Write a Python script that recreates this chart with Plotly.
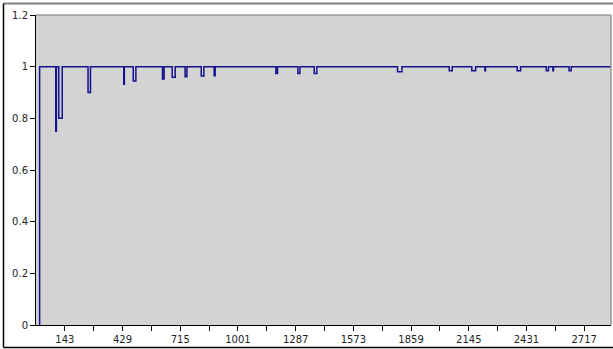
import plotly.graph_objects as go

# Step series: starts at 0, rises to 1, with short dips
start_x = 17
rise_x = 18
end_x = 2850
dip_start = [98, 113, 258, 435, 482, 627, 675, 739, 819, 883, 1189, 1298, 1379, 1792, 2048, 2160, 2225, 2385, 2529, 2562, 2642]
dip_end   = [101, 130, 270, 438, 495, 635, 690, 748, 832, 888, 1197, 1308, 1392, 1814, 2063, 2179, 2228, 2402, 2540, 2565, 2653]
dip_value = [0.75, 0.8, 0.9, 0.932, 0.945, 0.952, 0.959, 0.961, 0.964, 0.965, 0.974, 0.974, 0.974, 0.98, 0.984, 0.984, 0.984, 0.984, 0.984, 0.984, 0.984]

x_tick_vals = [143, 286, 429, 572, 715, 858, 1001, 1144, 1287, 1430, 1573, 1716, 1859, 2002, 2145, 2288, 2431, 2574, 2717]
x_tick_text = ["143", "", "429", "", "715", "", "1001", "", "1287", "", "1573", "", "1859", "", "2145", "", "2431", "", "2717"]

xs = [start_x, rise_x]
ys = [0, 1]
for s, e, v in zip(dip_start, dip_end, dip_value):
    xs += [s, e]
    ys += [v, 1]
xs.append(end_x)
ys.append(1)

W, H = 613, 349
PL, PR, PT, PB = 36, 611, 15, 325  # plot area edges in pixels

fig = go.Figure()
fig.add_trace(go.Scatter(x=xs, y=ys, mode="lines", line=dict(color="#12128c", width=1.5, shape="hv"),
                         hoverinfo="skip", showlegend=False))

font = dict(family="DejaVu Sans", size=10, color="#222222")
fig.update_layout(
    width=W, height=H,
    margin=dict(l=0, r=0, t=0, b=0),
    paper_bgcolor="white", plot_bgcolor="white",
    font=font,
    xaxis=dict(domain=[PL / W, PR / W], range=[0, 2850], tickmode="array", tickvals=x_tick_vals,
               ticktext=x_tick_text, showgrid=False, zeroline=False, showline=True, linecolor="black",
               linewidth=1, ticks="outside", ticklen=5, tickcolor="black", tickfont=font, automargin=False),
    yaxis=dict(domain=[1 - PB / H, 1 - PT / H], range=[0, 1.2], tickmode="array",
               tickvals=[0, 0.2, 0.4, 0.6, 0.8, 1, 1.2],
               ticktext=["0", "0.2", "0.4", "0.6", "0.8", "1", "1.2"],
               showgrid=False, zeroline=False, showline=True, linecolor="black", linewidth=1,
               ticks="outside", ticklen=5, tickcolor="black", tickfont=font, automargin=False),
)

# plot area background and gray top/right border
fig.add_shape(type="rect", xref="paper", yref="paper", x0=PL / W, x1=PR / W, y0=1 - PB / H, y1=1 - PT / H,
              fillcolor="#d3d3d3", line=dict(width=0), layer="below")
fig.add_shape(type="line", xref="paper", yref="paper", x0=PL / W, x1=PR / W, y0=1 - PT / H, y1=1 - PT / H,
              line=dict(color="#999999", width=1.5), layer="above")
fig.add_shape(type="line", xref="paper", yref="paper", x0=PR / W, x1=PR / W, y0=1 - PB / H, y1=1 - PT / H,
              line=dict(color="#999999", width=1.5), layer="above")
# outer frame: top gray, left and bottom black
fig.add_shape(type="line", xref="paper", yref="paper", x0=3.5 / W, x1=1, y0=1 - 3.5 / H, y1=1 - 3.5 / H,
              line=dict(color="#808080", width=2), layer="above")
fig.add_shape(type="line", xref="paper", yref="paper", x0=3.5 / W, x1=3.5 / W, y0=1 - 347.5 / H, y1=1 - 3.5 / H,
              line=dict(color="#000000", width=1.5), layer="above")
fig.add_shape(type="line", xref="paper", yref="paper", x0=3.5 / W, x1=1, y0=1 - 347.5 / H, y1=1 - 347.5 / H,
              line=dict(color="#000000", width=1.5), layer="above")

fig.write_html("out.html", config={"displayModeBar": False},
               post_script="document.body.style.margin='0';document.body.style.padding='0';")
